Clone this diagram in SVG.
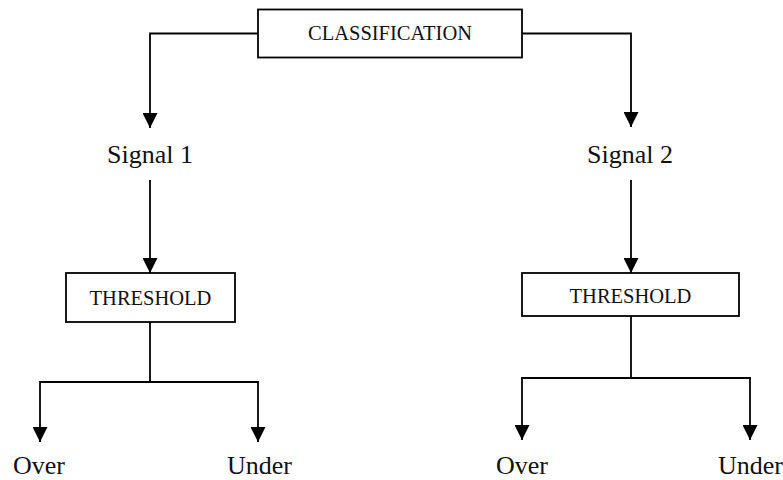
<svg xmlns="http://www.w3.org/2000/svg" width="783" height="480" viewBox="0 0 783 480">
  <defs>
    <marker id="arrow" viewBox="0 0 15 15" markerWidth="15" markerHeight="15" refX="15" refY="7.5" orient="auto" markerUnits="userSpaceOnUse">
      <path d="M0,0 L15,7.5 L0,15 z" fill="#000"/>
    </marker>
    <style>
      .box { fill: #fff; stroke: #000; stroke-width: 1.8; }
      .wire { fill: none; stroke: #000; stroke-width: 1.8; }
      .arr { marker-end: url(#arrow); }
      .lbl { font-family: "Liberation Serif", "Times New Roman", serif; fill: #111; }
      .boxlbl { font-size: 20.5px; text-anchor: middle; }
      .big { font-size: 26px; }
    </style>
  </defs>
  <rect width="783" height="480" fill="#fff"/>

  <!-- connectors -->
  <g id="connectors">
    <polyline class="wire arr" points="258,33.5 150,33.5 150,128"/>
    <polyline class="wire arr" points="522,33.5 631,33.5 631,127"/>
    <line class="wire arr" x1="150" y1="180" x2="150" y2="273"/>
    <line class="wire arr" x1="631" y1="180" x2="631" y2="273"/>
    <polyline class="wire" points="150,322 150,382"/>
    <polyline class="wire arr" points="150,382 40,382 40,442"/>
    <polyline class="wire arr" points="150,382 258,382 258,442"/>
    <polyline class="wire" points="631,316 631,378"/>
    <polyline class="wire arr" points="631,378 522,378 522,440"/>
    <polyline class="wire arr" points="631,378 750,378 750,440"/>
  </g>

  <!-- top classifier -->
  <g id="classification">
    <rect class="box" x="258" y="9.5" width="264" height="48"/>
    <text class="lbl boxlbl" x="390" y="40">CLASSIFICATION</text>
  </g>

  <g id="signal1">
    <text class="lbl big" x="150" y="163" text-anchor="middle">Signal 1</text>
  </g>
  <g id="signal2">
    <text class="lbl big" x="630" y="163" text-anchor="middle">Signal 2</text>
  </g>

  <g id="threshold1">
    <rect class="box" x="66" y="273" width="169" height="49"/>
    <text class="lbl boxlbl" x="150.5" y="305">THRESHOLD</text>
  </g>
  <g id="threshold2">
    <rect class="box" x="522" y="273" width="217" height="43"/>
    <text class="lbl boxlbl" x="630.5" y="303">THRESHOLD</text>
  </g>

  <g id="over1">
    <text class="lbl big" x="13" y="474">Over</text>
  </g>
  <g id="under1">
    <text class="lbl big" x="227" y="474">Under</text>
  </g>
  <g id="over2">
    <text class="lbl big" x="496" y="474">Over</text>
  </g>
  <g id="under2">
    <text class="lbl big" x="718" y="474">Under</text>
  </g>
</svg>
